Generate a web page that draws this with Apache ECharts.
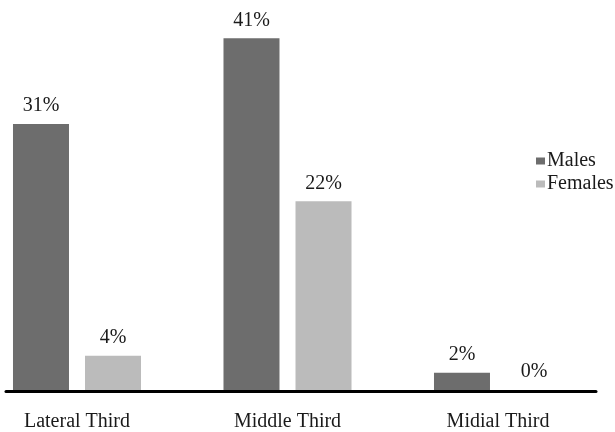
<!DOCTYPE html>
<html>
<head>
<meta charset="utf-8">
<script src="https://cdn.jsdelivr.net/npm/echarts@6/dist/echarts.min.js"></script>
<style>
  html, body { margin: 0; padding: 0; background: #fff; }
  #main { width: 615px; height: 432px; }
</style>
</head>
<body>
<div id="main"></div>
<script>
  // data
  var categories = ['Lateral Third', 'Middle Third', 'Midial Third'];
  var males = [31, 41, 2];
  var females = [4, 22, 0];

  var font = 'Liberation Serif';
  var chart = echarts.init(document.getElementById('main'));

  var barLabel = {
    show: true,
    position: 'top',
    distance: 8,
    formatter: '{c}%',
    color: '#1a1a1a',
    fontFamily: font,
    fontSize: 20
  };

  chart.setOption({
    animation: false,
    textStyle: { fontFamily: font },
    legend: {
      orient: 'vertical',
      left: 531,
      top: 146,
      icon: 'rect',
      itemWidth: 9,
      itemHeight: 7,
      itemGap: 3,
      textStyle: { color: '#1a1a1a', fontSize: 20, fontFamily: font, padding: [0, 0, 0, -3] },
      data: ['Males', 'Females']
    },
    grid: [
      // categories sit on the ticks so the groups line up with the picture
      { left: 77, right: 117, top: 4, bottom: 42 },
      // only used for the baseline, which is shorter than the groups' spacing
      { left: 6, right: 19, bottom: 40.5, height: 1 }
    ],
    xAxis: [
      {
        type: 'category',
        gridIndex: 0,
        boundaryGap: false,
        data: categories,
        axisLine: { show: false },
        axisTick: { show: false },
        axisLabel: { margin: 22, color: '#1a1a1a', fontSize: 20, fontFamily: font }
      },
      {
        type: 'value',
        gridIndex: 1,
        axisLine: { show: true, onZero: false, lineStyle: { color: '#000', width: 3 } },
        axisTick: { show: false },
        axisLabel: { show: false },
        splitLine: { show: false }
      }
    ],
    yAxis: [
      { type: 'value', gridIndex: 0, min: 0, max: 45, show: false },
      { type: 'value', gridIndex: 1, show: false }
    ],
    series: [
      {
        name: 'Males',
        type: 'bar',
        barWidth: 56,
        barGap: '28.6%',
        itemStyle: { color: '#6d6d6d' },
        label: barLabel,
        data: males
      },
      {
        name: 'Females',
        type: 'bar',
        barWidth: 56,
        itemStyle: { color: '#bbbbbb' },
        label: barLabel,
        data: females
      }
    ]
  });
</script>
</body>
</html>
